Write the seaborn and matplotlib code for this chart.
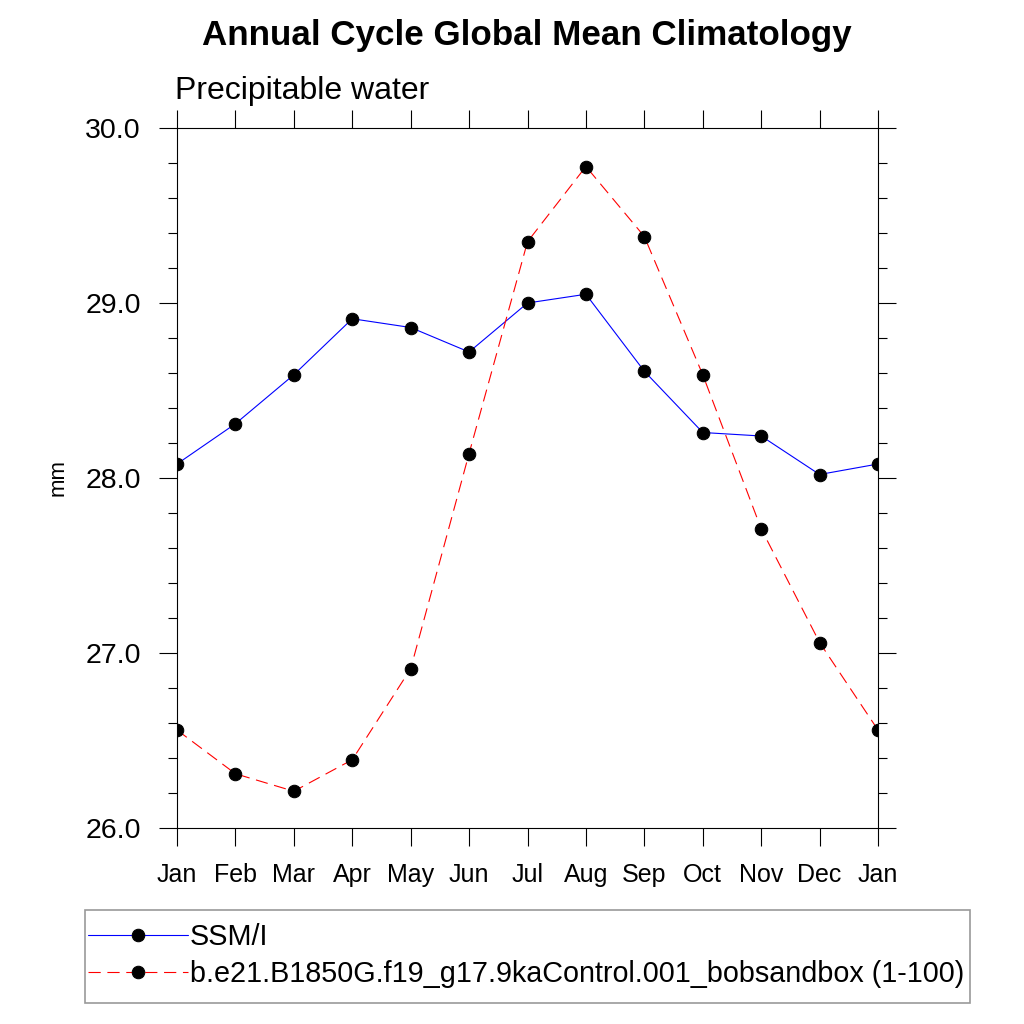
import matplotlib
matplotlib.use("Agg")
import matplotlib.pyplot as plt
import matplotlib.patches as mpatches
import seaborn as sns
import numpy as np
from matplotlib.ticker import MultipleLocator

months = ["Jan", "Feb", "Mar", "Apr", "May", "Jun", "Jul", "Aug", "Sep", "Oct", "Nov", "Dec", "Jan"]
ssmi = [28.08, 28.31, 28.59, 28.91, 28.86, 28.72, 29.00, 29.05, 28.61, 28.26, 28.24, 28.02, 28.08]
model = [26.56, 26.31, 26.21, 26.39, 26.91, 28.14, 29.35, 29.78, 29.38, 28.59, 27.71, 27.06, 26.56]
labels = ["SSM/I", "b.e21.B1850G.f19_g17.9kaControl.001_bobsandbox (1-100)"]
title = "Annual Cycle Global Mean Climatology"
subtitle = "Precipitable water"
ylabel = "mm"

sns.set_style("ticks")
plt.rcParams["font.family"] = ["Liberation Sans", "DejaVu Sans"]
plt.rcParams["text.color"] = "black"
plt.rcParams["axes.labelcolor"] = "black"
plt.rcParams["xtick.color"] = "black"
plt.rcParams["ytick.color"] = "black"
plt.rcParams["axes.edgecolor"] = "black"

fig = plt.figure(figsize=(10.24, 10.24), dpi=100)
ax = fig.add_axes([177/1024, 1-828/1024, (878-177)/1024, (828-128)/1024])

x = np.arange(len(months))
sns.lineplot(x=x, y=ssmi, ax=ax, color="blue", linewidth=0.8, marker="o",
             markersize=9, markerfacecolor="black", markeredgecolor="black",
             label=labels[0])
sns.lineplot(x=x, y=model, ax=ax, color="red", linewidth=0.8, marker="o",
             linestyle=(0, (11, 6)),
             markersize=9, markerfacecolor="black", markeredgecolor="black",
             label=labels[1])

ax.set_xlim(0, 12)
ax.set_ylim(26.0, 30.0)
ax.set_xticks(x)
ax.set_xticklabels(months, fontsize=18)
ax.yaxis.set_major_locator(MultipleLocator(1.0))
ax.yaxis.set_minor_locator(MultipleLocator(0.2))
ax.set_yticklabels([f"{v:.1f}" for v in ax.get_yticks()], fontsize=20.5)
ax.tick_params(axis="both", which="major", direction="out", length=13, width=0.8,
               top=True, right=True, colors="black")
ax.tick_params(axis="y", which="minor", direction="out", length=6.5, width=0.8,
               right=True, left=True, colors="black")
ax.tick_params(axis="x", which="major", pad=12)
ax.tick_params(axis="y", which="major", pad=13)
for s in ax.spines.values():
    s.set_visible(True)
    s.set_linewidth(0.8)
    s.set_color("black")
ax.set_xlabel("")
ax.set_ylabel(ylabel, fontsize=16, labelpad=12)

fig.text(527/1024, 1-35/1024, title, ha="center", va="center", fontsize=25.2, fontweight="bold")
ax.text(-0.003, 1.032, subtitle, transform=ax.transAxes, ha="left", va="bottom", fontsize=23)

handles = ax.get_lines()[:2]
ax.get_legend().remove()

# legend frame
fig.patches.append(mpatches.Rectangle((85/1024, 1-1003/1024), (970-85)/1024, 93/1024,
                                      transform=fig.transFigure, fill=False,
                                      edgecolor="#999999", linewidth=1.2))
leg = fig.legend(handles, labels, loc="upper left",
                 bbox_to_anchor=(88/1024, 1-923/1024),
                 borderaxespad=0, fontsize=20.7, handlelength=3.48,
                 handletextpad=0.07, labelspacing=0.33, borderpad=0,
                 frameon=False)

fig.savefig("out.png", dpi=100)
